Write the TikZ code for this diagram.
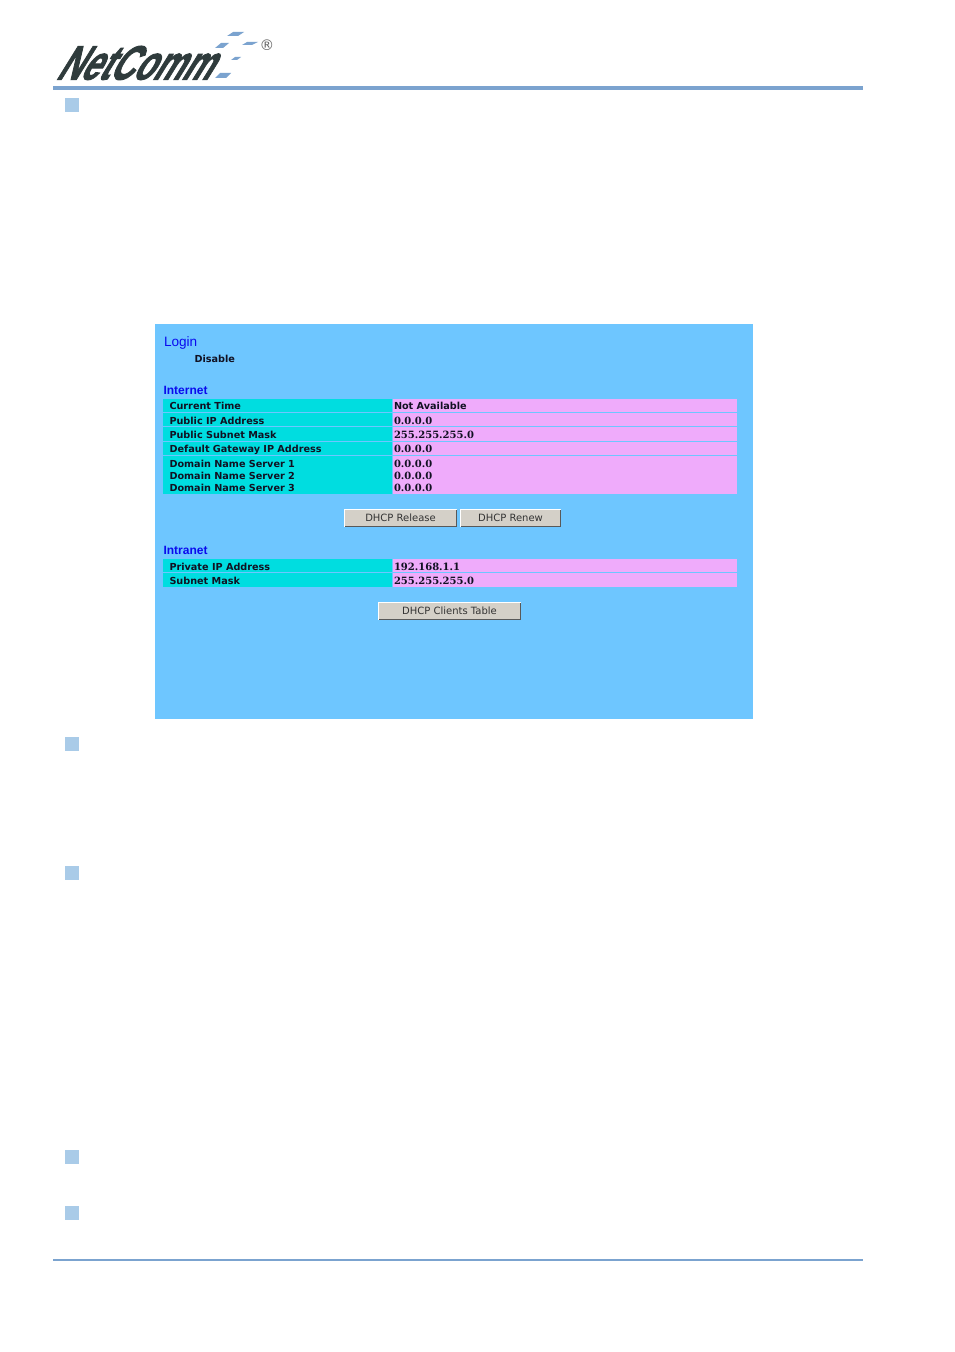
\documentclass[tikz,border=0pt]{standalone}
\usepackage{fontspec}
\setmainfont{DejaVu Sans}
\newfontfamily\logofont[FakeBold=2.2]{Liberation Sans}
\newfontfamily\headfont{Liberation Sans}
\newfontfamily\valfont{DejaVu Serif}
\definecolor{rulecol}{HTML}{7BA3CF}
\definecolor{bulletcol}{HTML}{A9CBE8}
\definecolor{panelcol}{HTML}{6EC6FF}
\definecolor{cyancol}{HTML}{00DDE0}
\definecolor{pinkcol}{HTML}{EFABFB}
\definecolor{btncol}{HTML}{D4D0C8}
\definecolor{headcol}{HTML}{0A0AEE}
\definecolor{logocol}{HTML}{2F3B3C}
\definecolor{txtcol}{HTML}{111122}
\tikzset{
  x=0.75pt,y=-0.75pt,
  plain/.style={inner sep=0pt,outer sep=0pt,draw=none,anchor=north west},
  lbl/.style={inner sep=0pt,outer sep=0pt,anchor=base west,text=txtcol,font=\fontsize{7.25}{8}\selectfont\bfseries},
  valtxt/.style={inner sep=0pt,outer sep=0pt,anchor=base west,text=txtcol,font=\fontsize{7.5}{8}\selectfont\valfont\bfseries},
  heading/.style={inner sep=0pt,outer sep=0pt,anchor=base west,text=headcol,font=\fontsize{10.2}{11}\selectfont\headfont},
  headbold/.style={inner sep=0pt,outer sep=0pt,anchor=base west,text=headcol,font=\fontsize{9}{10}\selectfont\headfont\bfseries},
  btntxt/.style={inner sep=0pt,outer sep=0pt,anchor=center,text=black!80,font=\fontsize{7.5}{8}\selectfont},
}
% name, style, x1, y1, x2, y2
\newcommand{\pxbox}[6]{%
  \pgfmathsetmacro{\wpx}{(#5-#3)*0.75}%
  \pgfmathsetmacro{\hpx}{(#6-#4)*0.75}%
  \node[plain,#2,minimum width=\wpx pt,minimum height=\hpx pt] (#1) at (#3,#4) {};}
% name, x1, y1, x2, y2, text
\newcommand{\pxbtn}[6]{%
  \pxbox{#1}{fill=btncol}{#2}{#3}{#4}{#5}
  \draw[white,line width=0.75pt] (#1.south west) -- (#1.north west) -- (#1.north east);
  \draw[black!65,line width=0.9pt] (#1.north east) -- (#1.south east) -- (#1.south west);
  \node[btntxt] (#1t) at (#1.center) {#6};}
\begin{document}
\begin{tikzpicture}
\useasboundingbox (0,0) rectangle (954,1352);
\fill[white] (0,0) rectangle (954,1352);

% logo
\node[inner sep=0pt,anchor=base west,text=logocol,font=\fontsize{36}{36}\selectfont\logofont\bfseries,
  transform shape,xslant=0.62,xscale=0.68] (logo) at (55,79.5) {NetComm};
\fill[rulecol] (233,32) -- (244,32) -- (238,36) -- (227,36) -- cycle;
\fill[rulecol] (221,43) -- (229,43) -- (223,48) -- (215,48) -- cycle;
\fill[rulecol] (247,42) -- (258,42) -- (252,45) -- (242,45) -- cycle;
\fill[rulecol] (235,57) -- (241,57) -- (237,60) -- (231,60) -- cycle;
\fill[rulecol] (220,73) -- (231,73) -- (226,78) -- (215,78) -- cycle;
\node[inner sep=0pt,text=black!60,font=\fontsize{11}{12}\selectfont] (reg) at (267,45) {®};

% rules and bullets
\pxbox{toprule}{fill=rulecol}{53}{86}{863}{90}
\pxbox{botrule}{fill=rulecol}{53}{1259}{863}{1261}
\pxbox{b1}{fill=bulletcol}{65}{98}{79}{112}
\pxbox{b2}{fill=bulletcol}{65}{737}{79}{751}
\pxbox{b3}{fill=bulletcol}{65}{866}{79}{880}
\pxbox{b4}{fill=bulletcol}{65}{1150}{79}{1164}
\pxbox{b5}{fill=bulletcol}{65}{1206}{79}{1220}

% panel
\pxbox{panel}{fill=panelcol}{155}{324}{753}{719}
\node[heading] (hlogin) at (164,346) {Login};
\node[lbl] (disable) at (194.5,362) {Disable};
\node[headbold] (hinternet) at (163.5,394) {Internet};
\node[headbold] (hintranet) at (163.5,554) {Intranet};

% internet table
\pxbox{c1}{fill=cyancol}{163}{398.5}{392}{412}
\pxbox{c2}{fill=cyancol}{163}{413}{392}{426.3}
\pxbox{c3}{fill=cyancol}{163}{427}{392}{440.7}
\pxbox{c4}{fill=cyancol}{163}{441.7}{392}{455}
\pxbox{c5}{fill=cyancol}{163}{456}{392}{493.7}
\pxbox{p1}{fill=pinkcol}{393}{398.5}{737}{412}
\pxbox{p2}{fill=pinkcol}{393}{413}{737}{426.3}
\pxbox{p3}{fill=pinkcol}{393}{427}{737}{440.7}
\pxbox{p4}{fill=pinkcol}{393}{441.7}{737}{455}
\pxbox{p5}{fill=pinkcol}{393}{456}{737}{493.7}
\node[lbl] (l1) at (169.5,409) {Current Time};
\node[lbl] (l2) at (169.5,424) {Public IP Address};
\node[lbl] (l3) at (169.5,438) {Public Subnet Mask};
\node[lbl] (l4) at (169.5,452) {Default Gateway IP Address};
\node[lbl] (l5) at (169.5,467) {Domain Name Server 1};
\node[lbl] (l6) at (169.5,479) {Domain Name Server 2};
\node[lbl] (l7) at (169.5,491) {Domain Name Server 3};
\node[lbl] (v1) at (394,409) {Not Available};
\node[valtxt] (v2) at (394,424) {0.0.0.0};
\node[valtxt] (v3) at (394,438) {255.255.255.0};
\node[valtxt] (v4) at (394,452) {0.0.0.0};
\node[valtxt] (v5) at (394,467) {0.0.0.0};
\node[valtxt] (v6) at (394,479) {0.0.0.0};
\node[valtxt] (v7) at (394,491) {0.0.0.0};

% intranet table
\pxbox{c6}{fill=cyancol}{163}{559}{392}{571.7}
\pxbox{c7}{fill=cyancol}{163}{573}{392}{587}
\pxbox{p6}{fill=pinkcol}{393}{559}{737}{571.7}
\pxbox{p7}{fill=pinkcol}{393}{573}{737}{587}
\node[lbl] (l8) at (169.5,570) {Private IP Address};
\node[lbl] (l9) at (169.5,584) {Subnet Mask};
\node[valtxt] (v8) at (394,570) {192.168.1.1};
\node[valtxt] (v9) at (394,584) {255.255.255.0};

% buttons
\pxbtn{brelease}{344.5}{509.5}{456.5}{526.5}{DHCP Release}
\pxbtn{brenew}{460.5}{509.5}{560.5}{526.5}{DHCP Renew}
\pxbtn{bclients}{378.5}{602.5}{520.5}{619.5}{DHCP Clients Table}
\end{tikzpicture}
\end{document}
